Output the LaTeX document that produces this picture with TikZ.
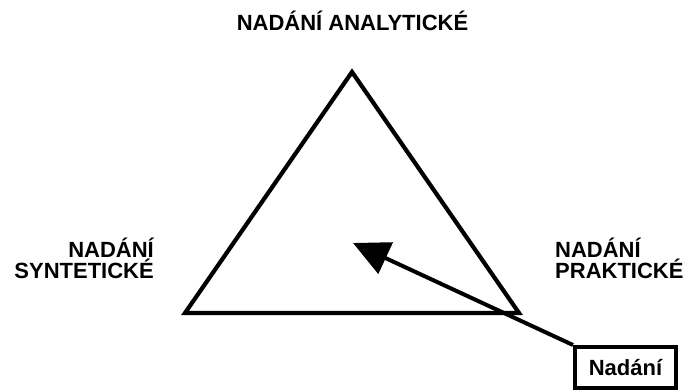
\documentclass[tikz,border=0pt]{standalone}
\usepackage{fontspec}
\setmainfont{Liberation Sans}
\usetikzlibrary{arrows.meta}
\tikzset{
  lbl/.style={inner sep=0pt, font=\bfseries\fontsize{22}{21}\selectfont},
  edge/.style={line width=4.2pt, line join=miter, miter limit=10},
  tagbox/.style={draw, line width=4pt, minimum width=101pt, minimum height=41pt, inner sep=0pt, font=\bfseries\fontsize{22}{21}\selectfont},
  pointer/.style={line width=4pt, -{Triangle[length=36pt,width=34pt]}}
}
\begin{document}
\begin{tikzpicture}[x=1pt,y=-1pt]
\useasboundingbox (0,0) rectangle (684,391);
\coordinate (apex) at (352,72);
\coordinate (bl) at (185,313);
\coordinate (br) at (519,313);
\draw[edge] (apex) -- (br) -- (bl) -- cycle;
\node[lbl, anchor=base] (ana) at (352.5,30) {NADÁNÍ ANALYTICKÉ};
\node[lbl, anchor=base east, align=right] (syn) at (154,278) {NADÁNÍ\\SYNTETICKÉ};
\node[lbl, anchor=base west, align=left] (pra) at (555,278) {NADÁNÍ\\PRAKTICKÉ};
\node[tagbox] (nad) at (625.5,367.5) {Nadání};
\coordinate (tip) at (353,243);
\draw[pointer] (nad.north west) -- (tip);
\end{tikzpicture}
\end{document}
